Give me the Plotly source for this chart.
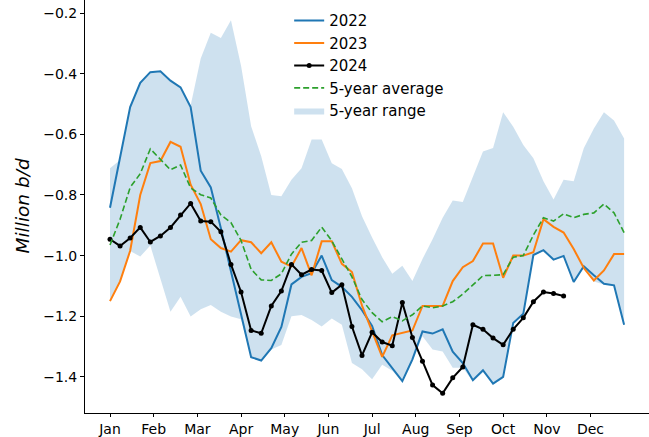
import plotly.graph_objects as go

# weekly values, week 0 = first week of Jan
weeks = list(range(52))

y2022 = [-0.842, -0.68, -0.51, -0.43, -0.395, -0.392, -0.423, -0.445, -0.51, -0.72,
         -0.775, -0.91, -1.05, -1.19, -1.335, -1.346, -1.305, -1.235, -1.095, -1.07,
         -1.058, -1.0, -1.081, -1.103, -1.136, -1.18, -1.232, -1.328, -1.37, -1.414,
         -1.342, -1.25, -1.257, -1.243, -1.317, -1.354, -1.411, -1.378, -1.422, -1.4,
         -1.222, -1.192, -0.998, -0.982, -1.013, -1.001, -1.087, -1.035, -1.065, -1.093,
         -1.098, -1.228]

y2023 = [-1.15, -1.085, -0.984, -0.80, -0.695, -0.688, -0.625, -0.641, -0.766, -0.83,
         -0.946, -0.975, -0.987, -0.949, -0.956, -0.992, -0.956, -1.02, -1.036, -0.975,
         -1.065, -0.953, -0.953, -1.027, -1.054, -1.165, -1.25, -1.334, -1.263, -1.256,
         -1.247, -1.166, -1.166, -1.166, -1.084, -1.038, -1.018, -0.96, -0.96, -1.073,
         -1.0, -1.0, -0.989, -0.88, -0.905, -0.924, -0.978, -1.041, -1.082, -1.049,
         -0.995, -0.995]

y2024 = [-0.946, -0.968, -0.942, -0.907, -0.955, -0.935, -0.907, -0.866, -0.828, -0.886,
         -0.888, -0.921, -1.029, -1.12, -1.247, -1.256, -1.166, -1.117, -1.029, -1.063,
         -1.046, -1.049, -1.122, -1.096, -1.234, -1.329, -1.253, -1.285, -1.297, -1.155,
         -1.27, -1.348, -1.427, -1.454, -1.403, -1.367, -1.228, -1.243, -1.272, -1.294,
         -1.243, -1.205, -1.152, -1.12, -1.125, -1.133]

avg5 = [-0.965, -0.88, -0.775, -0.73, -0.648, -0.684, -0.717, -0.701, -0.777, -0.799,
        -0.81, -0.866, -0.891, -0.95, -1.045, -1.08, -1.082, -1.06, -0.995, -0.956,
        -0.95, -0.906, -0.951, -1.011, -1.07, -1.145, -1.188, -1.218, -1.201, -1.215,
        -1.195, -1.166, -1.172, -1.166, -1.152, -1.127, -1.096, -1.066, -1.065, -1.063,
        -1.005, -1.0, -0.932, -0.875, -0.886, -0.862, -0.875, -0.864, -0.859, -0.83,
        -0.859, -0.924]

range_hi = [-0.712, -0.685, -0.51, -0.43, -0.394, -0.391, -0.423, -0.445, -0.505, -0.35,
            -0.265, -0.282, -0.224, -0.374, -0.573, -0.672, -0.8, -0.804, -0.75, -0.712,
            -0.617, -0.617, -0.695, -0.714, -0.778, -0.87, -0.94, -1.005, -1.06, -1.033,
            -1.084, -1.011, -0.946, -0.875, -0.818, -0.823, -0.74, -0.657, -0.645, -0.527,
            -0.575, -0.635, -0.679, -0.755, -0.815, -0.75, -0.755, -0.646, -0.581, -0.527,
            -0.554, -0.614]

range_lo = [-1.152, -1.085, -0.985, -1.003, -0.967, -1.076, -1.185, -1.136, -1.201, -1.177,
            -1.163, -1.185, -1.201, -1.21, -1.337, -1.348, -1.31, -1.295, -1.2, -1.196,
            -1.212, -1.234, -1.207, -1.228, -1.354, -1.375, -1.408, -1.36, -1.38, -1.416,
            -1.35, -1.266, -1.31, -1.316, -1.37, -1.37, -1.415, -1.385, -1.425, -1.405,
            -1.225, -1.195, -1.0, -0.985, -1.015, -1.005, -1.09, -1.041, -1.085, -1.095,
            -1.1, -1.23]

months = ['Jan', 'Feb', 'Mar', 'Apr', 'May', 'Jun', 'Jul', 'Aug', 'Sep', 'Oct', 'Nov', 'Dec']
month_pos = [i * 52 / 12 for i in range(12)]
y_ticks = [-1.4, -1.2, -1.0, -0.8, -0.6, -0.4, -0.2]

fig = go.Figure()

# 5-year range band
fig.add_trace(go.Scatter(x=weeks, y=range_lo, mode='lines', line=dict(width=0),
                         showlegend=False, hoverinfo='skip'))
fig.add_trace(go.Scatter(x=weeks, y=range_hi, mode='lines', line=dict(width=0),
                         fill='tonexty', fillcolor='rgba(31,119,180,0.22)',
                         name='5-year range', legendrank=5))

fig.add_trace(go.Scatter(x=weeks, y=y2022, mode='lines', name='2022',
                         line=dict(color='#1f77b4', width=2), legendrank=1))
fig.add_trace(go.Scatter(x=weeks, y=y2023, mode='lines', name='2023',
                         line=dict(color='#ff7f0e', width=2), legendrank=2))
fig.add_trace(go.Scatter(x=weeks[:len(y2024)], y=y2024, mode='lines+markers', name='2024',
                         line=dict(color='black', width=2),
                         marker=dict(color='black', size=5), legendrank=3))
fig.add_trace(go.Scatter(x=weeks, y=avg5, mode='lines', name='5-year average',
                         line=dict(color='#2ca02c', width=1.6, dash='6px,3px'), legendrank=4))

fig.update_layout(
    width=649, height=437,
    margin=dict(l=85, r=0, t=0, b=20),
    plot_bgcolor='white', paper_bgcolor='white',
    font=dict(family='DejaVu Sans', size=14, color='black'),
    legend=dict(x=0.362, y=0.99, xanchor='left', yanchor='top', traceorder='normal',
                bgcolor='rgba(0,0,0,0)', font=dict(size=15)),
    xaxis=dict(range=[-2.48, 53.47], tickvals=month_pos, ticktext=months,
               showgrid=False, zeroline=False, showline=True, linecolor='black', linewidth=1,
               ticks='outside', ticklen=3, tickcolor='black'),
    yaxis=dict(range=[-1.519, -0.157], tickvals=y_ticks, tickformat='.1f',
               showgrid=False, zeroline=False, showline=True, linecolor='black', linewidth=1,
               ticks='outside', ticklen=4, tickcolor='black'),
    annotations=[dict(text='<i>Million b/d</i>', xref='paper', yref='paper', x=0, y=0.5,
                      xshift=-63, xanchor='center', yanchor='middle',
                      showarrow=False, textangle=-90, font=dict(size=18.5))],
)

# page body has a default margin; drop it so the figure sits at the window corner
fig.write_html("out.html", config={'displayModeBar': False},
               post_script="document.body.style.margin='0';")
